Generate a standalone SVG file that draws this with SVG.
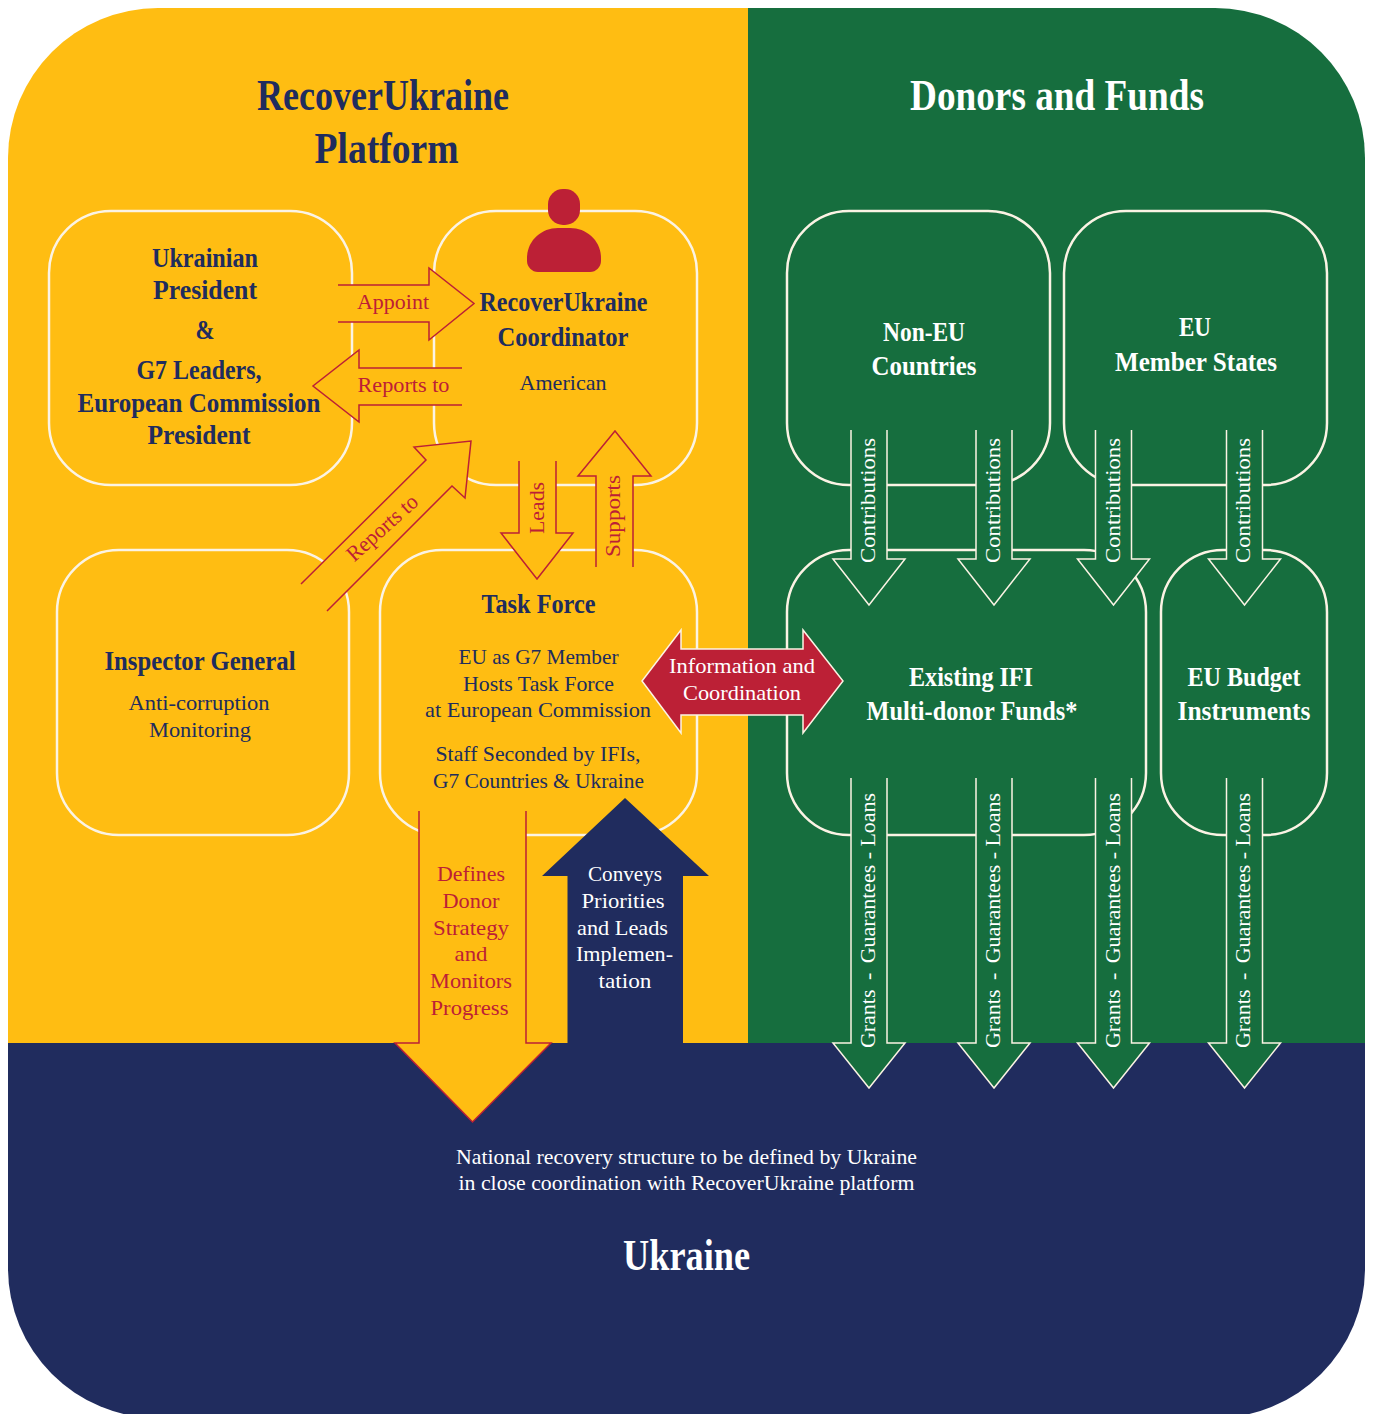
<svg xmlns="http://www.w3.org/2000/svg" width="1375" height="1414" viewBox="0 0 1375 1414">
<style>
text{font-family:"Liberation Serif","Noto Serif",serif;text-anchor:middle;font-size:22px;fill:#202C5E}
.b{font-weight:700}
.h{font-size:44px;font-weight:700}
.n{font-size:28px;font-weight:700}
.w{fill:#FFFFFF}
.r{fill:#BC2036}
.box{stroke:#FBF3E4;stroke-width:2.5}
.y{fill:#FFBD12}
.g{fill:#166E3E}
.ay{fill:#FFBD12;stroke:#BC2036;stroke-width:1.5}
.ag{fill:#166E3E;stroke:#FBF3E4;stroke-width:1.5}
</style>
<defs>
<clipPath id="card"><rect x="8" y="8" width="1357" height="1410" rx="150"/></clipPath>
</defs>
<rect width="1375" height="1414" fill="#FFFFFF"/>
<g id="background" clip-path="url(#card)">
<rect x="8" y="8" width="740" height="1035" fill="#FFBD12"/>
<rect x="748" y="8" width="617" height="1035" fill="#166E3E"/>
<rect x="8" y="1043" width="1357" height="400" fill="#202C5E"/>
</g>
<g id="titles">
<text class="h" x="383" y="110" textLength="252" lengthAdjust="spacingAndGlyphs">RecoverUkraine</text>
<text class="h" x="386.500" y="163" textLength="144" lengthAdjust="spacingAndGlyphs">Platform</text>
<text class="h w" x="1057" y="110" textLength="294" lengthAdjust="spacingAndGlyphs">Donors and Funds</text>
</g>
<g id="node-presidents">
<rect class="box y" x="49" y="211" width="303" height="274" rx="62"/>
<text class="n" x="205" y="267" textLength="106" lengthAdjust="spacingAndGlyphs">Ukrainian</text>
<text class="n" x="205" y="299" textLength="104" lengthAdjust="spacingAndGlyphs">President</text>
<text class="n" x="205" y="339" textLength="19" lengthAdjust="spacingAndGlyphs">&amp;</text>
<text class="n" x="199" y="379" textLength="125" lengthAdjust="spacingAndGlyphs">G7 Leaders,</text>
<text class="n" x="199" y="412" textLength="243" lengthAdjust="spacingAndGlyphs">European Commission</text>
<text class="n" x="199" y="444" textLength="103" lengthAdjust="spacingAndGlyphs">President</text>
</g>
<g id="node-coordinator">
<rect class="box y" x="434" y="211" width="263" height="274" rx="62"/>
<rect x="548" y="189" width="32" height="36" rx="15" fill="#BC2036"/>
<path d="M527 261V258C527 241 541 228 558 228H570C587 228 601 241 601 258V261C601 267 596 272 590 272H538C532 272 527 267 527 261Z" fill="#BC2036"/>
<text class="n" x="563.500" y="311" textLength="168" lengthAdjust="spacingAndGlyphs">RecoverUkraine</text>
<text class="n" x="563" y="346" textLength="131" lengthAdjust="spacingAndGlyphs">Coordinator</text>
<text x="563" y="390" textLength="87" lengthAdjust="spacingAndGlyphs">American</text>
</g>
<g id="node-inspector">
<rect class="box y" x="57" y="550" width="292" height="285" rx="62"/>
<text class="n" x="200" y="670" textLength="191" lengthAdjust="spacingAndGlyphs">Inspector General</text>
<text x="199" y="710" textLength="141" lengthAdjust="spacingAndGlyphs">Anti-corruption</text>
<text x="200" y="737" textLength="102" lengthAdjust="spacingAndGlyphs">Monitoring</text>
</g>
<g id="node-taskforce">
<rect class="box y" x="380" y="550" width="317" height="285" rx="62"/>
<text class="n" x="538.500" y="613" textLength="114" lengthAdjust="spacingAndGlyphs">Task Force</text>
<text x="538.500" y="664" textLength="160" lengthAdjust="spacingAndGlyphs">EU as G7 Member</text>
<text x="538.500" y="691" textLength="151" lengthAdjust="spacingAndGlyphs">Hosts Task Force</text>
<text x="538" y="717" textLength="226" lengthAdjust="spacingAndGlyphs">at European Commission</text>
<text x="538" y="761" textLength="205" lengthAdjust="spacingAndGlyphs">Staff Seconded by IFIs,</text>
<text x="538.500" y="788" textLength="211" lengthAdjust="spacingAndGlyphs">G7 Countries &amp; Ukraine</text>
</g>
<g id="node-noneu">
<rect class="box g" x="787" y="211" width="263" height="274" rx="62"/>
<text class="n w" x="924" y="341" textLength="82" lengthAdjust="spacingAndGlyphs">Non-EU</text>
<text class="n w" x="924" y="375" textLength="105" lengthAdjust="spacingAndGlyphs">Countries</text>
</g>
<g id="node-eumembers">
<rect class="box g" x="1064" y="211" width="263" height="274" rx="62"/>
<text class="n w" x="1195" y="336" textLength="32" lengthAdjust="spacingAndGlyphs">EU</text>
<text class="n w" x="1196" y="371" textLength="162" lengthAdjust="spacingAndGlyphs">Member States</text>
</g>
<g id="node-ifi">
<rect class="box g" x="787" y="550" width="359" height="285" rx="62"/>
<text class="n w" x="971" y="686" textLength="124" lengthAdjust="spacingAndGlyphs">Existing IFI</text>
<text class="n w" x="972" y="720" textLength="211" lengthAdjust="spacingAndGlyphs">Multi-donor Funds*</text>
</g>
<g id="node-eubudget">
<rect class="box g" x="1161" y="550" width="166" height="285" rx="62"/>
<text class="n w" x="1244" y="686" textLength="113" lengthAdjust="spacingAndGlyphs">EU Budget</text>
<text class="n w" x="1244" y="720" textLength="133" lengthAdjust="spacingAndGlyphs">Instruments</text>
</g>
<g id="connectors">
<path class="ay" d="M338 285H429V268L474 303.500L429 340V322H338"/>
<path class="ay" d="M462 368H359V350L313 386L359 422V405H462"/>
<path class="ay" d="M301 584L426 460L414 447L471 441L465 498L452 486L327 611"/>
<path class="ay" d="M519 461V533H501L537 579L573 533H556V461"/>
<path class="ay" d="M596 567V476H578L615 431L651 476H633V567"/>
<path class="ay" d="M419 811V1043H395L472.500 1122L551 1043H526V811"/>
<path d="M567.500 1043V876H542L625 798L709 876H683V1043Z" fill="#202C5E"/>
<path d="M681 649V630L642 681L681 733V715H803V733L843 681L803 630V649Z" fill="#BC2036" stroke="#FBF3E4" stroke-width="1.500"/>
<path class="ag" d="M851 430V559H833L869 605L905 559H887V430"/>
<path class="ag" d="M976 430V559H958L994 605L1030 559H1012V430"/>
<path class="ag" d="M1095.500 430V559H1077.500L1113.500 605L1149.500 559H1131.500V430"/>
<path class="ag" d="M1226.500 430V559H1208.500L1244.500 605L1280.500 559H1262.500V430"/>
<path class="ag" d="M851 778V1043H833L869 1088L905 1043H887V778"/>
<path class="ag" d="M976 778V1043H958L994 1088L1030 1043H1012V778"/>
<path class="ag" d="M1095.500 778V1043H1077.500L1113.500 1088L1149.500 1043H1131.500V778"/>
<path class="ag" d="M1226.500 778V1043H1208.500L1244.500 1088L1280.500 1043H1262.500V778"/>
<text class="r" x="393" y="309" textLength="72" lengthAdjust="spacingAndGlyphs">Appoint</text>
<text class="r" x="403.500" y="392" textLength="92" lengthAdjust="spacingAndGlyphs">Reports to</text>
<text class="r" transform="translate(387 533) rotate(-42)" textLength="88" lengthAdjust="spacingAndGlyphs">Reports to</text>
<text class="r" transform="translate(544 508) rotate(-90)" textLength="52" lengthAdjust="spacingAndGlyphs">Leads</text>
<text class="r" transform="translate(620 516) rotate(-90)" textLength="82" lengthAdjust="spacingAndGlyphs">Supports</text>
<text class="w" x="742" y="673" textLength="146" lengthAdjust="spacingAndGlyphs">Information and</text>
<text class="w" x="742" y="700" textLength="118" lengthAdjust="spacingAndGlyphs">Coordination</text>
<text class="r" x="471" y="881" textLength="68" lengthAdjust="spacingAndGlyphs">Defines</text>
<text class="r" x="471" y="908" textLength="57" lengthAdjust="spacingAndGlyphs">Donor</text>
<text class="r" x="471" y="935" textLength="76" lengthAdjust="spacingAndGlyphs">Strategy</text>
<text class="r" x="471" y="961" textLength="33" lengthAdjust="spacingAndGlyphs">and</text>
<text class="r" x="471" y="988" textLength="82" lengthAdjust="spacingAndGlyphs">Monitors</text>
<text class="r" x="469.500" y="1015" textLength="78" lengthAdjust="spacingAndGlyphs">Progress</text>
<text class="w" x="625" y="881" textLength="74" lengthAdjust="spacingAndGlyphs">Conveys</text>
<text class="w" x="623" y="908" textLength="83" lengthAdjust="spacingAndGlyphs">Priorities</text>
<text class="w" x="622.500" y="935" textLength="91" lengthAdjust="spacingAndGlyphs">and Leads</text>
<text class="w" x="624.500" y="961" textLength="97" lengthAdjust="spacingAndGlyphs">Implemen-</text>
<text class="w" x="625" y="988" textLength="53" lengthAdjust="spacingAndGlyphs">tation</text>
<text class="w" transform="translate(875 500.500) rotate(-90)" textLength="125" lengthAdjust="spacingAndGlyphs">Contributions</text>
<text class="w" transform="translate(1000 500.500) rotate(-90)" textLength="125" lengthAdjust="spacingAndGlyphs">Contributions</text>
<text class="w" transform="translate(1119.500 500.500) rotate(-90)" textLength="125" lengthAdjust="spacingAndGlyphs">Contributions</text>
<text class="w" transform="translate(1250 500.500) rotate(-90)" textLength="125" lengthAdjust="spacingAndGlyphs">Contributions</text>
<text class="w" transform="translate(875 920.500) rotate(-90)" textLength="255" lengthAdjust="spacingAndGlyphs">Grants <tspan dx="4">-</tspan> <tspan dx="4">Guarantees</tspan> - Loans</text>
<text class="w" transform="translate(1000 920.500) rotate(-90)" textLength="255" lengthAdjust="spacingAndGlyphs">Grants <tspan dx="4">-</tspan> <tspan dx="4">Guarantees</tspan> - Loans</text>
<text class="w" transform="translate(1119.500 920.500) rotate(-90)" textLength="255" lengthAdjust="spacingAndGlyphs">Grants <tspan dx="4">-</tspan> <tspan dx="4">Guarantees</tspan> - Loans</text>
<text class="w" transform="translate(1250 920.500) rotate(-90)" textLength="255" lengthAdjust="spacingAndGlyphs">Grants <tspan dx="4">-</tspan> <tspan dx="4">Guarantees</tspan> - Loans</text>
</g>
<g id="node-ukraine">
<text class="w" x="686.500" y="1164" textLength="461" lengthAdjust="spacingAndGlyphs">National recovery structure to be defined by Ukraine</text>
<text class="w" x="686.500" y="1190" textLength="456" lengthAdjust="spacingAndGlyphs">in close coordination with RecoverUkraine platform</text>
<text class="h w" x="686.500" y="1270" textLength="127" lengthAdjust="spacingAndGlyphs">Ukraine</text>
</g>
</svg>
